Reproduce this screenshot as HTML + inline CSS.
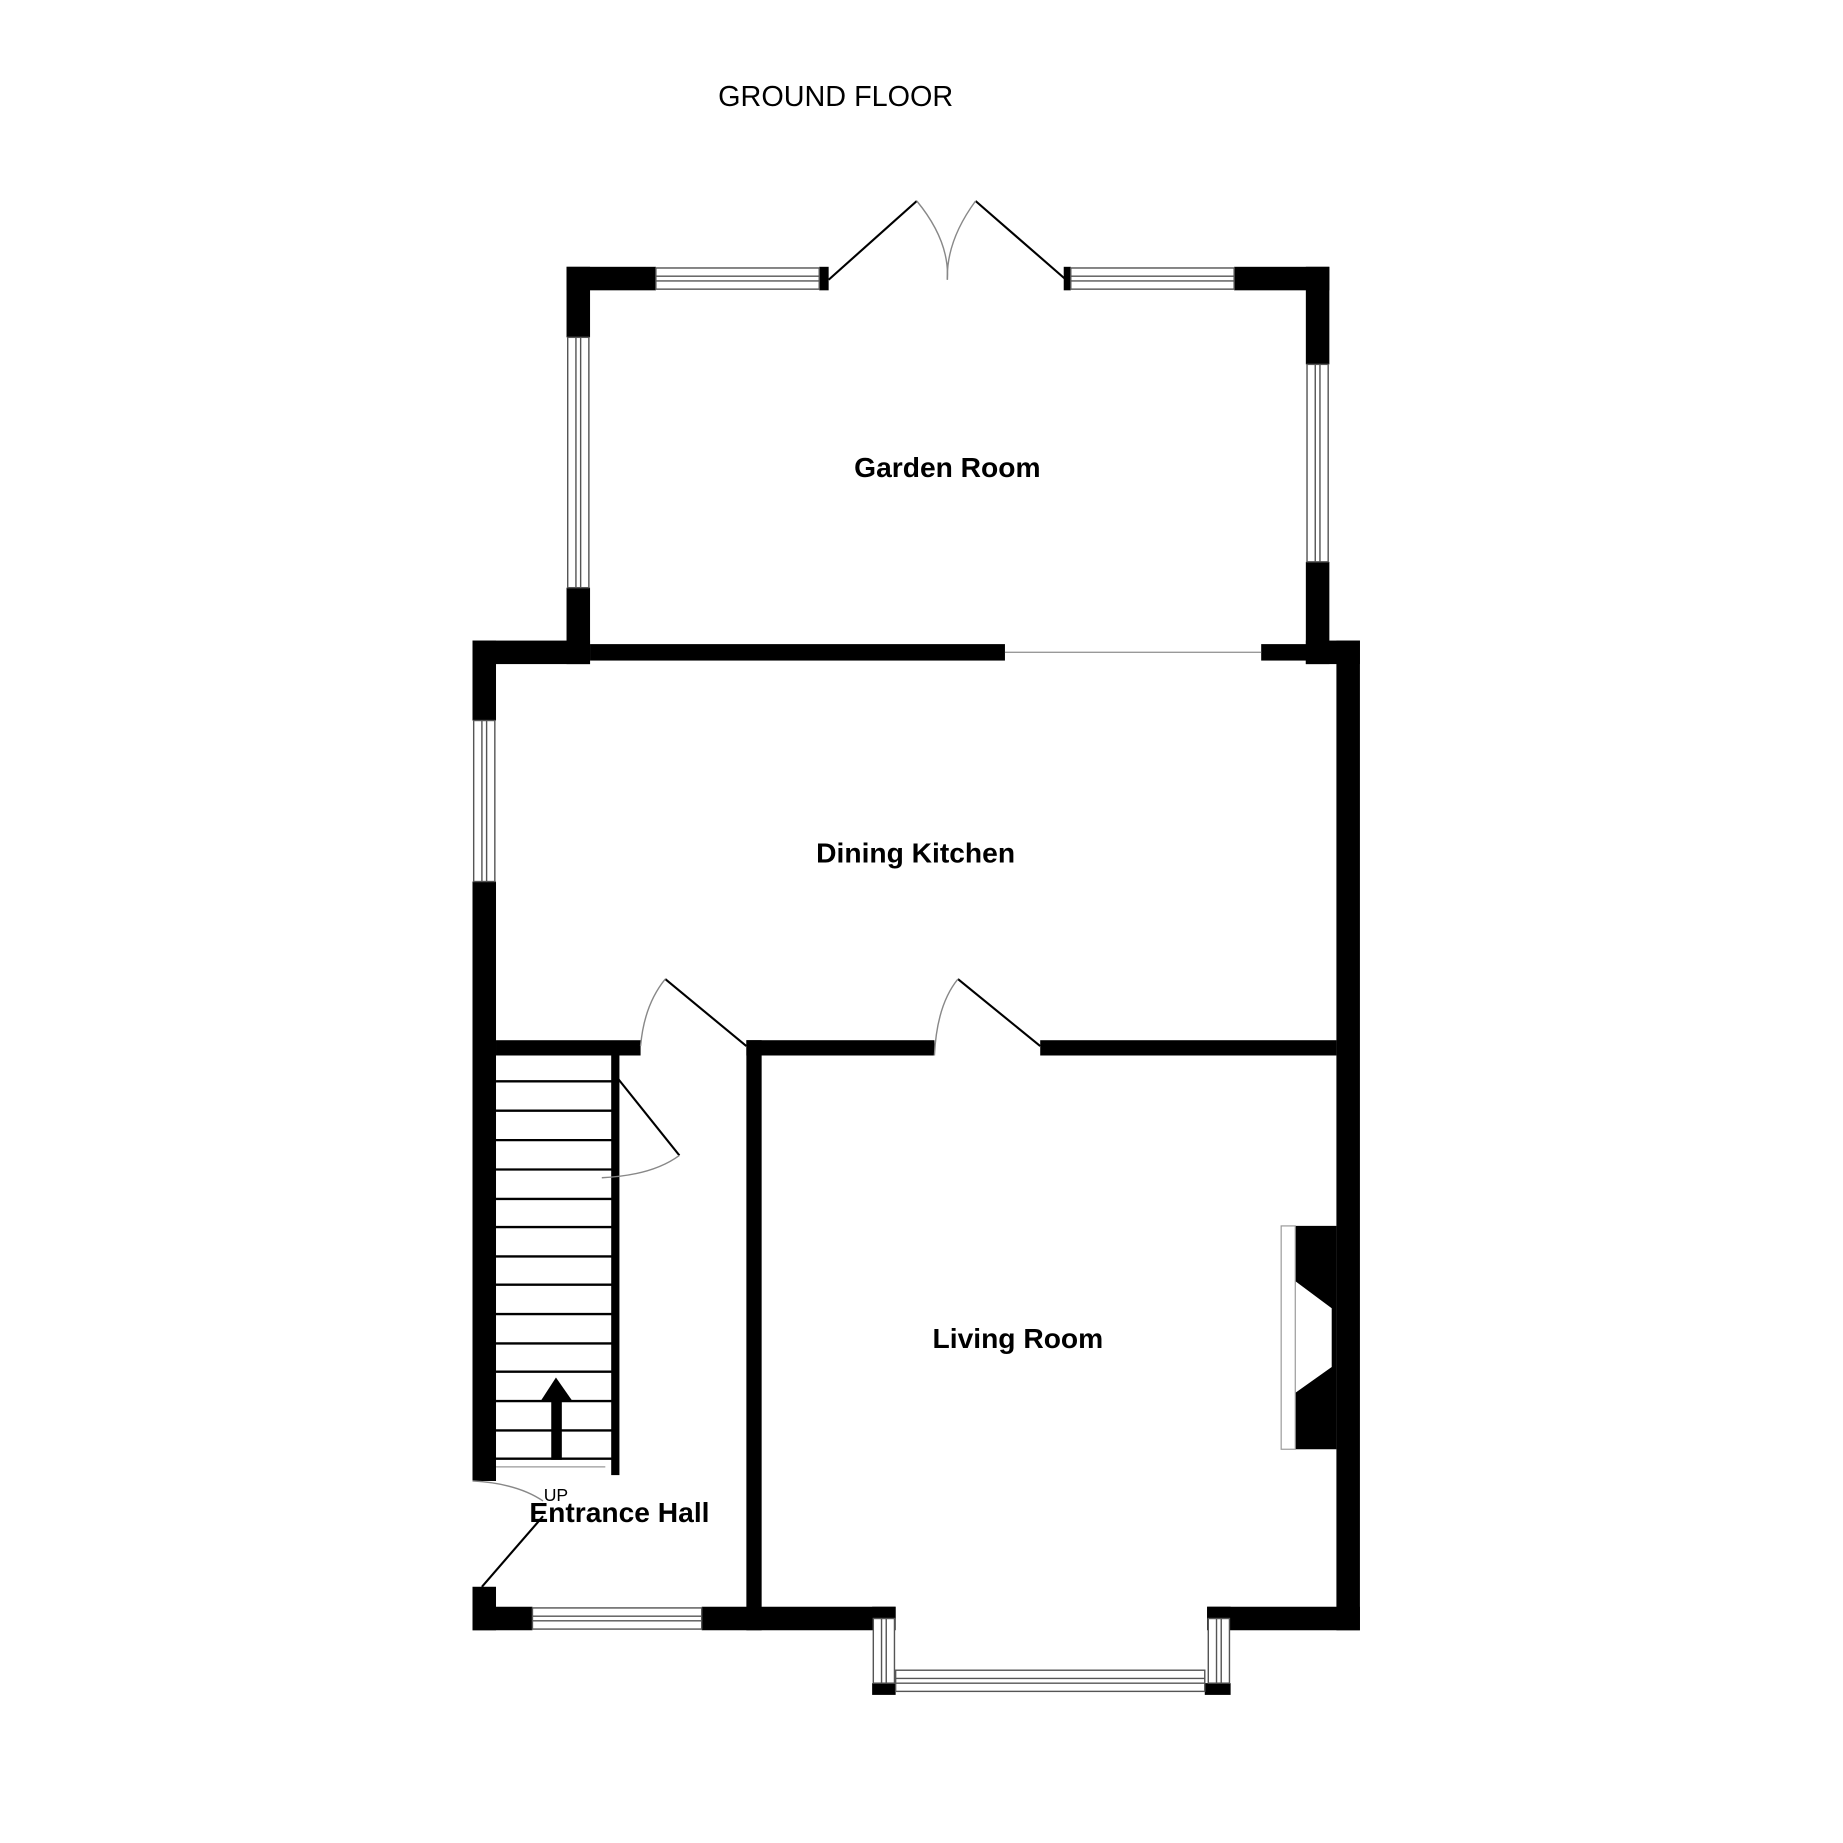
<!DOCTYPE html>
<html><head><style>html,body{margin:0;padding:0;background:#fff}svg{display:block}</style></head>
<body>
<svg width="1843" height="1843" viewBox="0 0 1568 1568" xmlns="http://www.w3.org/2000/svg" font-family="Liberation Sans, Arial, sans-serif">
<rect width="1568" height="1568" fill="#fff"/>
<g fill="#000">
<rect x="482" y="227" width="76" height="20"/>
<rect x="697" y="227" width="8" height="20"/>
<rect x="905" y="227" width="6" height="20"/>
<rect x="1050" y="227" width="81" height="20"/>
<rect x="482" y="227" width="20" height="60"/>
<rect x="482" y="500" width="20" height="65"/>
<rect x="1111" y="227" width="20" height="83"/>
<rect x="1111" y="478" width="20" height="87"/>
<rect x="402" y="545" width="100" height="20"/>
<rect x="502" y="548" width="353" height="14"/>
<rect x="1073" y="548" width="64" height="14"/>
<rect x="1111" y="545" width="46" height="20"/>
<rect x="1137" y="545" width="20" height="842"/>
<rect x="402" y="545" width="20" height="68"/>
<rect x="402" y="750" width="20" height="510"/>
<rect x="422" y="885" width="123" height="13"/>
<rect x="635" y="885" width="160" height="13"/>
<rect x="885" y="885" width="252" height="13"/>
<rect x="635" y="885" width="13" height="502"/>
<rect x="520" y="898" width="7" height="357"/>
<rect x="402" y="1350" width="20" height="37"/>
<rect x="402" y="1367" width="51" height="20"/>
<rect x="597" y="1367" width="165" height="20"/>
<rect x="1027" y="1367" width="130" height="20"/>
<rect x="742" y="1367" width="20" height="10"/>
<rect x="742" y="1432" width="20" height="10"/>
<rect x="1027" y="1367" width="20" height="10"/>
<rect x="1025" y="1432" width="22" height="10"/>
<polygon points="1102,1043 1137,1043 1137,1233 1102,1233 1102,1185 1133,1163 1133,1113 1102,1090"/>
<rect x="469" y="1190" width="9" height="52"/>
<polygon points="460,1192 473,1172 487,1192"/>
</g>
<rect x="1090" y="1043" width="12" height="190" fill="none" stroke="#999" stroke-width="1"/>
<g fill="#fff" stroke="#555" stroke-width="1.2">
<rect x="558" y="228" width="139" height="18"/><line x1="558" y1="235" x2="697" y2="235"/><line x1="558" y1="239" x2="697" y2="239"/>
<rect x="911" y="228" width="139" height="18"/><line x1="911" y1="235" x2="1050" y2="235"/><line x1="911" y1="239" x2="1050" y2="239"/>
<rect x="483" y="287" width="18" height="213"/><line x1="490" y1="287" x2="490" y2="500"/><line x1="494" y1="287" x2="494" y2="500"/>
<rect x="1112" y="310" width="18" height="168"/><line x1="1119" y1="310" x2="1119" y2="478"/><line x1="1123" y1="310" x2="1123" y2="478"/>
<rect x="403" y="613" width="18" height="137"/><line x1="410" y1="613" x2="410" y2="750"/><line x1="414" y1="613" x2="414" y2="750"/>
<rect x="453" y="1368" width="144" height="18"/><line x1="453" y1="1375" x2="597" y2="1375"/><line x1="453" y1="1379" x2="597" y2="1379"/>
<rect x="743" y="1377" width="18" height="55"/><line x1="750" y1="1377" x2="750" y2="1432"/><line x1="754" y1="1377" x2="754" y2="1432"/>
<rect x="1028" y="1377" width="18" height="55"/><line x1="1035" y1="1377" x2="1035" y2="1432"/><line x1="1039" y1="1377" x2="1039" y2="1432"/>
<rect x="762" y="1421" width="263" height="18"/><line x1="762" y1="1428" x2="1025" y2="1428"/><line x1="762" y1="1432" x2="1025" y2="1432"/>
</g>
<line x1="855" y1="555" x2="1073" y2="555" stroke="#999" stroke-width="1.2"/>
<g stroke="#000" stroke-width="2">
<line x1="422" y1="920" x2="522" y2="920"/><line x1="422" y1="945" x2="522" y2="945"/><line x1="422" y1="970" x2="522" y2="970"/><line x1="422" y1="995" x2="522" y2="995"/><line x1="422" y1="1020" x2="522" y2="1020"/><line x1="422" y1="1044" x2="522" y2="1044"/><line x1="422" y1="1069" x2="522" y2="1069"/><line x1="422" y1="1093" x2="522" y2="1093"/><line x1="422" y1="1118" x2="522" y2="1118"/><line x1="422" y1="1143" x2="522" y2="1143"/><line x1="422" y1="1167" x2="522" y2="1167"/><line x1="422" y1="1192" x2="522" y2="1192"/><line x1="422" y1="1217" x2="522" y2="1217"/><line x1="422" y1="1241" x2="522" y2="1241"/>
</g>
<line x1="422" y1="1248" x2="515" y2="1248" stroke="#999" stroke-width="1"/>
<g fill="none" stroke="#000" stroke-width="1.8">
<line x1="705" y1="238" x2="780" y2="171"/><line x1="907" y1="238" x2="830" y2="171"/>
<line x1="635" y1="890" x2="566" y2="833"/><line x1="885" y1="890" x2="815" y2="833"/>
<line x1="522" y1="913" x2="578" y2="983"/>
<line x1="410" y1="1350" x2="462" y2="1290"/>
</g>
<g fill="none" stroke="#888" stroke-width="1.2">
<path d="M780,171 Q808,205 806,238"/><path d="M830,171 Q805,205 806,238"/>
<path d="M566,833 Q548,855 545,890"/><path d="M815,833 Q797,855 795,898"/>
<path d="M578,983 Q555,1000 512,1002"/>
<path d="M402,1260 Q440,1262 462,1277"/>
</g>
<text x="711" y="90" font-size="24.5" text-anchor="middle">GROUND FLOOR</text>
<g font-size="24" font-weight="bold" text-anchor="middle">
<text x="806" y="406">Garden Room</text>
<text x="779" y="734">Dining Kitchen</text>
<text x="866" y="1147">Living Room</text>
<text x="527" y="1295">Entrance Hall</text>
</g>
<text x="473" y="1277" font-size="15" text-anchor="middle">UP</text>
</svg>
</body></html>
